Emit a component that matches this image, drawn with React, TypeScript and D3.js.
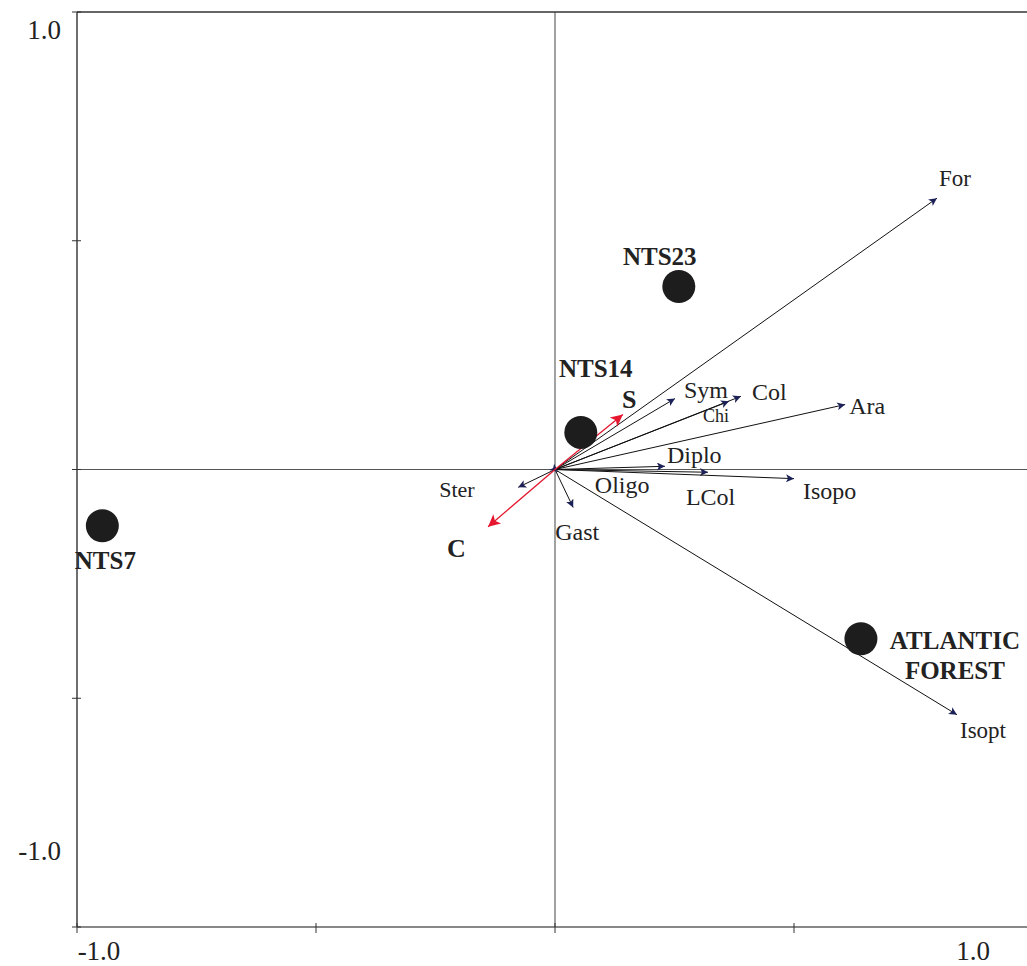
import React from "react";
import * as d3 from "d3";

// ---- data ----
const speciesNames = ["For", "Sym", "Col", "Chi", "Ara", "Diplo", "LCol", "Isopo", "Isopt", "Ster", "Gast", "Oligo"];
const speciesX = [0.799, 0.251, 0.389, 0.364, 0.607, 0.230, 0.320, 0.500, 0.841, -0.077, 0.038, 0.006];
const speciesY = [0.593, 0.155, 0.160, 0.149, 0.142, 0.007, -0.006, -0.020, -0.536, -0.039, -0.083, -0.005];

const envNames = ["S", "C"];
const envX = [0.142, -0.140];
const envY = [0.120, -0.125];

const siteNames = ["NTS23", "NTS14", "NTS7", "ATLANTIC FOREST"];
const siteX = [0.259, 0.054, -0.947, 0.640];
const siteY = [0.400, 0.081, -0.123, -0.370];

const tickValues = [-1, -0.5, 0, 0.5, 1];
const axisLabels = ["-1.0", "1.0"];

// ---- layout (label offsets in px relative to arrow tips / site centers) ----
const speciesLabelOffset: Record<string, [number, number, number]> = {
  For: [2, -12, 23],
  Sym: [9, -1, 24],
  Col: [11, 4, 24],
  Chi: [-26, 21, 18],
  Ara: [4, 9, 24],
  Diplo: [2, -3, 24],
  LCol: [-22, 33, 24],
  Isopo: [9, 20, 24],
  Isopt: [3, 23, 23],
  Ster: [-79, 10, 22],
  Gast: [-18, 33, 24],
  Oligo: [37, 21, 24],
};
const envLabelOffset: Record<string, [number, number]> = {
  S: [-1, -7],
  C: [-41, 30],
};
const siteLabelOffset: Record<string, [number, number]> = {
  NTS23: [-19, -22],
  NTS14: [15, -55],
  NTS7: [3, 43],
  "ATLANTIC FOREST": [94, 10],
};

const W = 1027;
const H = 966;
const FONT = "'Liberation Serif', 'Times New Roman', serif";

export default function App() {
  const x = d3.scaleLinear().domain([-1, 1]).range([77, 1033]);
  const y = d3.scaleLinear().domain([-1, 1]).range([927, 12]);
  const x0 = x(0);
  const y0 = y(0);

  const species = speciesNames.map((n, i) => ({ n, x: speciesX[i], y: speciesY[i] }));
  const env = envNames.map((n, i) => ({ n, x: envX[i], y: envY[i] }));
  const sites = siteNames.map((n, i) => ({ n, x: siteX[i], y: siteY[i] }));

  return (
    <svg
      width={W}
      height={H}
      viewBox={`0 0 ${W} ${H}`}
      style={{ position: "absolute", left: 0, top: 0, background: "#fff" }}
      fontFamily={FONT}
    >
      <defs>
        <marker id="ah" viewBox="0 0 10 10" refX="10" refY="5" markerWidth="11" markerHeight="8" markerUnits="userSpaceOnUse" orient="auto">
          <path d="M0,0 L10,5 L0,10 L2.5,5 z" fill="#1c2257" />
        </marker>
        <marker id="ahr" viewBox="0 0 10 10" refX="10" refY="5" markerWidth="16" markerHeight="12" markerUnits="userSpaceOnUse" orient="auto">
          <path d="M0,0 L10,5 L0,10 L2.5,5 z" fill="#e4172f" />
        </marker>
      </defs>

      {/* frame */}
      <line x1={x(-1)} x2={W + 10} y1={y(1)} y2={y(1)} stroke="#333" strokeWidth={1.3} />
      <line x1={x(-1)} x2={W + 10} y1={y(-1)} y2={y(-1)} stroke="#888" strokeWidth={1.8} />
      <line x1={x(-1)} x2={x(-1)} y1={y(1)} y2={y(-1)} stroke="#222" strokeWidth={1.3} />

      {/* zero axes */}
      <line x1={x0} x2={x0} y1={y(1)} y2={y(-1)} stroke="#444" strokeWidth={1} />
      <line x1={x(-1)} x2={W + 10} y1={y0} y2={y0} stroke="#555" strokeWidth={1} />

      {/* ticks */}
      {tickValues.map((t) => (
        <line key={"xt" + t} x1={x(t)} x2={x(t)} y1={y(-1) - 4} y2={y(-1) + 6} stroke="#333" strokeWidth={1} />
      ))}
      {tickValues.map((t) => (
        <line key={"yt" + t} x1={x(-1) - 5} x2={x(-1) + 4} y1={y(t)} y2={y(t)} stroke="#333" strokeWidth={1} />
      ))}

      {/* axis labels */}
      <text x={x(-1) + 22} y={y(-1) + 33} fontSize={27} textAnchor="middle" fill="#222">{axisLabels[0]}</text>
      <text x={x(1) - 60} y={y(-1) + 33} fontSize={27} textAnchor="middle" fill="#222">{axisLabels[1]}</text>
      <text x={x(-1) - 16} y={y(1) + 27} fontSize={27} textAnchor="end" fill="#222">{axisLabels[1]}</text>
      <text x={x(-1) - 16} y={y(-1) - 67} fontSize={27} textAnchor="end" fill="#222">{axisLabels[0]}</text>

      {/* species arrows */}
      {species.map((s) => (
        <line key={"sa" + s.n} x1={x0} y1={y0} x2={x(s.x)} y2={y(s.y)} stroke="#111" strokeWidth={1} markerEnd="url(#ah)" />
      ))}
      {species.map((s) => {
        const o = speciesLabelOffset[s.n];
        return (
          <text key={"sl" + s.n} x={x(s.x) + o[0]} y={y(s.y) + o[1]} fontSize={o[2]} fill="#222">{s.n}</text>
        );
      })}

      {/* environmental arrows */}
      {env.map((e) => (
        <line key={"ea" + e.n} x1={x0} y1={y0} x2={x(e.x)} y2={y(e.y)} stroke="#e4172f" strokeWidth={1.3} markerEnd="url(#ahr)" />
      ))}
      {env.map((e) => {
        const o = envLabelOffset[e.n];
        return (
          <text key={"el" + e.n} x={x(e.x) + o[0]} y={y(e.y) + o[1]} fontSize={26} fontWeight="bold" fill="#222">{e.n}</text>
        );
      })}

      {/* sites */}
      {sites.map((s) => (
        <circle key={"sc" + s.n} cx={x(s.x)} cy={y(s.y)} r={16.5} fill="#1d1d1d" />
      ))}
      {sites.map((s) => {
        const o = siteLabelOffset[s.n];
        const words = s.n.split(" ");
        return (
          <text key={"st" + s.n} x={x(s.x) + o[0]} y={y(s.y) + o[1]} fontSize={25} fontWeight="bold" textAnchor="middle" fill="#222">
            {words.map((w, i) => (
              <tspan key={w} x={x(s.x) + o[0]} dy={i === 0 ? 0 : 30}>{w}</tspan>
            ))}
          </text>
        );
      })}
    </svg>
  );
}
